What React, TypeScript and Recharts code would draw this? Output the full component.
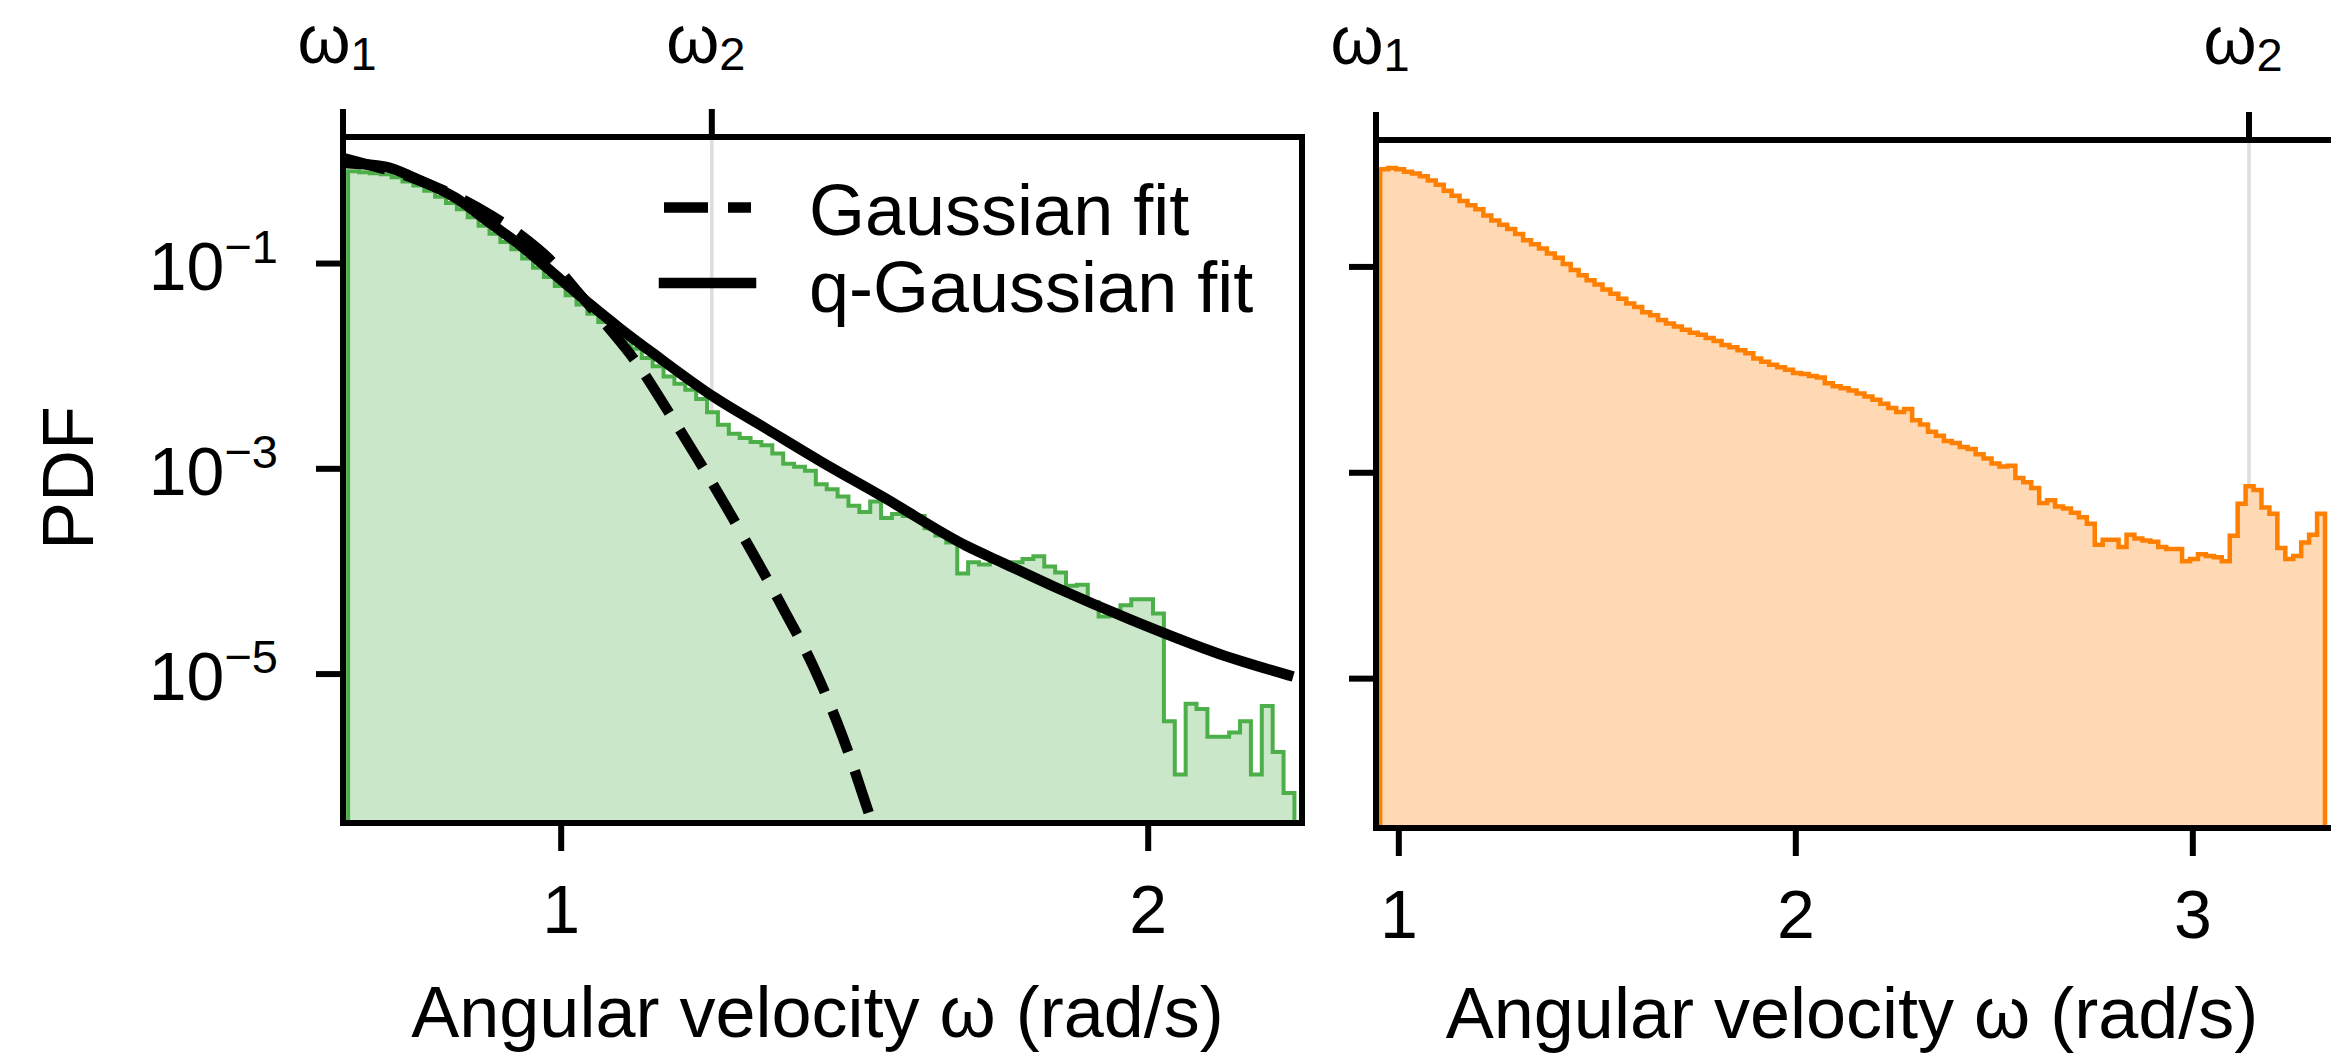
import React from 'react';
import { ComposedChart, Area, Line, XAxis, YAxis, Legend } from 'recharts';

const FONT = '"Liberation Sans", Arial, Helvetica, sans-serif';

// ---------- axes ----------
const LEFT_X_DOMAIN = [0.6283, 2.262];
const RIGHT_X_DOMAIN = [0.9425, 3.3607];
const Y_DOMAIN = [3.54e-7, 1.71];
const LEFT_X_TICKS = [1, 2];
const RIGHT_X_TICKS = [1, 2, 3];
const Y_TICKS = [1e-1, 1e-3, 1e-5];
const Y_TICK_EXPONENTS = ['\u22121', '\u22123', '\u22125'];
const LEFT_OMEGA_TICKS = [0.6283, 1.2566];
const RIGHT_OMEGA_TICKS = [0.9425, 3.1416];
const OMEGA_SUBSCRIPTS = ['1', '2'];
const X_LABEL = 'Angular velocity \u03c9 (rad/s)';
const Y_LABEL = 'PDF';
const LEGEND_LABELS = ['Gaussian fit', 'q-Gaussian fit'];

// ---------- left panel: histogram (green) ----------
const GREEN_BIN_START = 0.637;
const GREEN_BIN_WIDTH = 0.01853;
const greenPdf = [
  0.794, 0.776, 0.759, 0.741, 0.692, 0.631, 0.575, 0.513, 0.447, 0.389,
  0.339, 0.282, 0.234, 0.195, 0.162, 0.138, 0.112, 0.0912, 0.0741, 0.0603,
  0.049, 0.0398, 0.0324, 0.0269, 0.0219, 0.0178, 0.0148, 0.012, 0.01, 0.00794,
  0.00676, 0.00589, 0.00479, 0.00355, 0.00269, 0.00219, 0.002, 0.00182, 0.0017, 0.00141,
  0.00112, 0.00105, 9.55e-4, 7.08e-4, 6.31e-4, 5.37e-4, 4.37e-4, 3.8e-4, 4.79e-4, 3.31e-4,
  3.63e-4, 3.47e-4, 3.47e-4, 2.63e-4, 2.24e-4, 1.91e-4, 9.55e-5, 1.23e-4, 1.17e-4, 1.26e-4,
  1.2e-4, 1.23e-4, 1.32e-4, 1.41e-4, 1.12e-4, 9.77e-5, 7.24e-5, 7.41e-5, 5.01e-5, 3.63e-5,
  4.17e-5, 4.68e-5, 5.37e-5, 5.37e-5, 3.89e-5, 3.47e-6, 1.05e-6, 5.13e-6, 4.57e-6, 2.45e-6,
  2.45e-6, 2.69e-6, 3.47e-6, 1.05e-6, 4.9e-6, 1.74e-6, 6.92e-7,
];

// ---------- left panel: fits ----------
const gaussX = [0.6283, 0.68, 0.73, 0.78, 0.83, 0.88, 0.93, 0.98, 1.03, 1.08, 1.13, 1.18, 1.23, 1.28, 1.33, 1.38, 1.43, 1.48, 1.525];
const gaussPdf = [1.07, 0.891, 0.741, 0.575, 0.427, 0.295, 0.191, 0.11, 0.0513, 0.024, 0.0105, 0.0038, 0.00132, 4.37e-4, 1.38e-4, 4.17e-5, 1.17e-5, 2.4e-6, 4.27e-7];
const qGaussX = [0.6283, 0.7, 0.75, 0.82, 0.88, 0.93, 1.0, 1.05, 1.1, 1.16, 1.26, 1.35, 1.44, 1.55, 1.69, 1.75, 1.84, 1.97, 2.12, 2.2385];
const qGaussPdf = [0.955, 0.881, 0.684, 0.437, 0.245, 0.151, 0.0692, 0.0398, 0.0234, 0.0129, 0.00501, 0.00245, 0.0012, 5.25e-4, 1.78e-4, 1.23e-4, 7.08e-5, 3.39e-5, 1.58e-5, 9.77e-6];

// ---------- right panel: histogram (orange) ----------
const ORANGE_BIN_START = 0.953;
const ORANGE_BIN_WIDTH = 0.02;
const orangePdf = [
  0.891, 0.912, 0.891, 0.84, 0.81, 0.76, 0.69, 0.63, 0.55, 0.49,
  0.437, 0.398, 0.363, 0.316, 0.282, 0.257, 0.234, 0.209, 0.182, 0.166,
  0.151, 0.135, 0.123, 0.107, 0.0933, 0.0832, 0.0741, 0.0676, 0.0603, 0.055,
  0.049, 0.0442, 0.0407, 0.0363, 0.0339, 0.0305, 0.0282, 0.0263, 0.0245, 0.0229,
  0.0219, 0.0204, 0.0191, 0.0174, 0.0166, 0.0155, 0.0145, 0.0129, 0.012, 0.0112,
  0.0106, 0.01, 0.00933, 0.00912, 0.00871, 0.00841, 0.00741, 0.00692, 0.00661, 0.00631,
  0.00589, 0.0055, 0.00513, 0.00468, 0.00427, 0.00389, 0.00417, 0.00324, 0.00295, 0.00251,
  0.00229, 0.00204, 0.00195, 0.00178, 0.0017, 0.00151, 0.00138, 0.00123, 0.00115, 0.00117,
  8.9e-4, 8.1e-4, 7.1e-4, 5.1e-4, 5.4e-4, 4.7e-4, 4.5e-4, 4.1e-4, 3.7e-4, 3.2e-4,
  2.0e-4, 2.24e-4, 2.24e-4, 1.9e-4, 2.5e-4, 2.3e-4, 2.2e-4, 2.14e-4, 1.9e-4, 1.82e-4,
  1.82e-4, 1.38e-4, 1.45e-4, 1.62e-4, 1.55e-4, 1.51e-4, 1.38e-4, 2.45e-4, 5.0e-4, 7.4e-4,
  6.8e-4, 4.6e-4, 4.0e-4, 1.86e-4, 1.45e-4, 1.55e-4, 2.1e-4, 2.5e-4, 4.0e-4,
];

// ---------- colours ----------
const GREEN_LINE = '#4daf4a';
const GREEN_FILL = '#cae7c9';
const ORANGE_LINE = '#ff7f00';
const ORANGE_FILL = '#ffd9b3';
const OMEGA_LINE = '#dddddd';

// ---------- helpers building tables for the library ----------
function stepTable(start: number, width: number, values: number[], base: number) {
  const rows: { x: number; y: number }[] = [{ x: start, y: base }];
  values.forEach((v, i) => rows.push({ x: start + i * width, y: v }));
  const end = start + values.length * width;
  rows.push({ x: end, y: values[values.length - 1] });
  rows.push({ x: end, y: base });
  return rows;
}
function pairTable(xs: number[], ys: number[]) {
  return xs.map((x, i) => ({ x, y: ys[i] }));
}
function vline(x: number) {
  return [{ x, y: Y_DOMAIN[0] }, { x, y: Y_DOMAIN[1] }];
}

const greenTable = stepTable(GREEN_BIN_START, GREEN_BIN_WIDTH, greenPdf, Y_DOMAIN[0]);
const orangeTable = stepTable(ORANGE_BIN_START, ORANGE_BIN_WIDTH, orangePdf, Y_DOMAIN[0]);
const gaussTable = pairTable(gaussX, gaussPdf);
const qGaussTable = pairTable(qGaussX, qGaussPdf);

const SPINE = { stroke: '#000', strokeWidth: 6, strokeLinecap: 'square' as const };
const TICKLINE = { stroke: '#000', strokeWidth: 6 };
const TICK_FS = 68;
const SUB_FS = 47;
const LABEL_FS = 72;

// ---------- tick renderers ----------
const YTickLabel = (props: any) => {
  const { x, y, payload } = props;
  const idx = Y_TICKS.findIndex((t) => Math.abs(t - payload.value) / t < 1e-6);
  return (
    <text x={x} y={y + 26} textAnchor="end" fontFamily={FONT} fontSize={TICK_FS} fill="#000">
      <tspan>10</tspan>
      <tspan dy={-27} fontSize={SUB_FS}>{Y_TICK_EXPONENTS[idx]}</tspan>
    </text>
  );
};
const EmptyTick = () => <g />;
const XTickLabel = (props: any) => {
  const { x, y, payload } = props;
  return (
    <text x={x} y={y + 48} textAnchor="middle" fontFamily={FONT} fontSize={TICK_FS} fill="#000">
      {String(payload.value)}
    </text>
  );
};
const makeOmegaTick = (ticks: number[]) => (props: any) => {
  const { x, y, payload } = props;
  const idx = ticks.findIndex((t) => Math.abs(t - payload.value) < 1e-6);
  return (
    <text x={x - 6} y={y} textAnchor="middle" fontFamily={FONT} fontSize={TICK_FS} fill="#000">
      <tspan>{'\u03c9'}</tspan>
      <tspan dy={7} fontSize={SUB_FS}>{OMEGA_SUBSCRIPTS[idx]}</tspan>
    </text>
  );
};
const LeftOmegaTick = makeOmegaTick(LEFT_OMEGA_TICKS);
const RightOmegaTick = makeOmegaTick(RIGHT_OMEGA_TICKS);

const makeXTitle = (dy: number, dx: number) => (props: any) => {
  const vb = props.viewBox || {};
  return (
    <text
      x={vb.x + vb.width / 2 + dx}
      y={vb.y + dy}
      textAnchor="middle"
      fontFamily={FONT}
      fontSize={LABEL_FS}
      fill="#000"
    >
      {X_LABEL}
    </text>
  );
};
const LeftXTitle = makeXTitle(214, -5);
const RightXTitle = makeXTitle(210, -4);

const YTitle = (props: any) => {
  const vb = props.viewBox || {};
  const cx = vb.x + 93;
  const cy = vb.y + vb.height / 2 - 2;
  return (
    <text
      x={cx}
      y={cy}
      transform={`rotate(-90 ${cx} ${cy})`}
      textAnchor="middle"
      fontFamily={FONT}
      fontSize={LABEL_FS}
      fill="#000"
    >
      {Y_LABEL}
    </text>
  );
};

const LegendBox = () => (
  <svg width={640} height={170} style={{ display: 'block', overflow: 'visible' }}>
    <line x1={24} x2={111} y1={47.5} y2={47.5} stroke="#000" strokeWidth={10.5} strokeDasharray="44 20" />
    <text x={169} y={75} fontFamily={FONT} fontSize={LABEL_FS} fill="#000">{LEGEND_LABELS[0]}</text>
    <line x1={24} x2={111} y1={123} y2={123} stroke="#000" strokeWidth={10.5} strokeLinecap="square" />
    <text x={169} y={151.7} fontFamily={FONT} fontSize={LABEL_FS} fill="#000">{LEGEND_LABELS[1]}</text>
  </svg>
);

function LeftPanel() {
  return (
    <ComposedChart width={1330} height={1057} margin={{ top: 0, right: 0, bottom: 0, left: 0 }}>
      <XAxis
        xAxisId="b"
        type="number"
        dataKey="x"
        domain={LEFT_X_DOMAIN}
        allowDataOverflow
        ticks={LEFT_X_TICKS}
        interval={0}
        height={234}
        tickSize={28}
        tickMargin={34}
        axisLine={SPINE}
        tickLine={TICKLINE}
        tick={<XTickLabel />}
        label={<LeftXTitle />}
      />
      <XAxis
        xAxisId="t"
        orientation="top"
        type="number"
        dataKey="x"
        domain={LEFT_X_DOMAIN}
        allowDataOverflow
        ticks={LEFT_OMEGA_TICKS}
        interval={0}
        height={137}
        tickSize={28}
        tickMargin={46}
        axisLine={SPINE}
        tickLine={TICKLINE}
        tick={<LeftOmegaTick />}
      />
      <YAxis
        yAxisId="l"
        type="number"
        scale="log"
        domain={Y_DOMAIN}
        allowDataOverflow
        ticks={Y_TICKS}
        interval={0}
        width={343}
        tickSize={27}
        tickMargin={38}
        axisLine={SPINE}
        tickLine={TICKLINE}
        tick={<YTickLabel />}
        label={<YTitle />}
      />
      <YAxis
        yAxisId="r"
        orientation="right"
        type="number"
        scale="log"
        domain={Y_DOMAIN}
        allowDataOverflow
        width={28}
        axisLine={SPINE}
        tickLine={false}
        tick={false}
      />
      <Line
        xAxisId="b"
        yAxisId="l"
        data={vline(LEFT_OMEGA_TICKS[1])}
        dataKey="y"
        type="linear"
        stroke={OMEGA_LINE}
        strokeWidth={3.5}
        dot={false}
        activeDot={false}
        isAnimationActive={false}
        zIndex={50}
      />
      <Area
        xAxisId="b"
        yAxisId="l"
        data={greenTable}
        dataKey="y"
        type="stepAfter"
        baseValue={Y_DOMAIN[0]}
        stroke={GREEN_LINE}
        strokeWidth={4}
        fill={GREEN_FILL}
        fillOpacity={1}
        dot={false}
        activeDot={false}
        isAnimationActive={false}
      />
      <Line
        xAxisId="b"
        yAxisId="l"
        data={gaussTable}
        dataKey="y"
        type="monotone"
        stroke="#000"
        strokeWidth={10.5}
        strokeDasharray="44 20"
        dot={false}
        activeDot={false}
        isAnimationActive={false}
      />
      <Line
        xAxisId="b"
        yAxisId="l"
        data={qGaussTable}
        dataKey="y"
        type="monotone"
        stroke="#000"
        strokeWidth={10.5}
        strokeLinecap="square"
        dot={false}
        activeDot={false}
        isAnimationActive={false}
      />
      <Legend
        layout="horizontal"
        verticalAlign="middle"
        align="center"
        wrapperStyle={{ position: 'absolute', left: 640, top: 160, width: 640, height: 170, margin: 0, padding: 0 }}
        content={() => <LegendBox />}
      />
    </ComposedChart>
  );
}

function RightPanel() {
  return (
    <ComposedChart width={1100} height={1057} margin={{ top: 0, right: 0, bottom: 0, left: 0 }}>
      <XAxis
        xAxisId="b"
        type="number"
        dataKey="x"
        domain={RIGHT_X_DOMAIN}
        allowDataOverflow
        ticks={RIGHT_X_TICKS}
        interval={0}
        height={229}
        tickSize={28}
        tickMargin={34}
        axisLine={SPINE}
        tickLine={TICKLINE}
        tick={<XTickLabel />}
        label={<RightXTitle />}
      />
      <XAxis
        xAxisId="t"
        orientation="top"
        type="number"
        dataKey="x"
        domain={RIGHT_X_DOMAIN}
        allowDataOverflow
        ticks={RIGHT_OMEGA_TICKS}
        interval={0}
        height={140}
        tickSize={28}
        tickMargin={48}
        axisLine={SPINE}
        tickLine={TICKLINE}
        tick={<RightOmegaTick />}
      />
      <YAxis
        yAxisId="l"
        type="number"
        scale="log"
        domain={Y_DOMAIN}
        allowDataOverflow
        ticks={Y_TICKS}
        interval={0}
        width={76}
        tickSize={27}
        tickMargin={10}
        axisLine={SPINE}
        tickLine={TICKLINE}
        tick={<EmptyTick />}
      />
      <YAxis
        yAxisId="r"
        orientation="right"
        type="number"
        scale="log"
        domain={Y_DOMAIN}
        allowDataOverflow
        width={64}
        axisLine={SPINE}
        tickLine={false}
        tick={false}
      />
      <Line
        xAxisId="b"
        yAxisId="l"
        data={vline(RIGHT_OMEGA_TICKS[1])}
        dataKey="y"
        type="linear"
        stroke={OMEGA_LINE}
        strokeWidth={3.5}
        dot={false}
        activeDot={false}
        isAnimationActive={false}
        zIndex={50}
      />
      <Area
        xAxisId="b"
        yAxisId="l"
        data={orangeTable}
        dataKey="y"
        type="stepAfter"
        baseValue={Y_DOMAIN[0]}
        stroke={ORANGE_LINE}
        strokeWidth={4.5}
        fill={ORANGE_FILL}
        fillOpacity={1}
        dot={false}
        activeDot={false}
        isAnimationActive={false}
      />
    </ComposedChart>
  );
}

export default function App() {
  return (
    <div
      style={{
        position: 'fixed',
        left: 0,
        top: 0,
        width: 2331,
        height: 1057,
        overflow: 'hidden',
        background: '#fff',
        fontFamily: FONT,
      }}
    >
      <div style={{ position: 'absolute', left: 0, top: 0 }}>
        <LeftPanel />
      </div>
      <div style={{ position: 'absolute', left: 1300, top: 0 }}>
        <RightPanel />
      </div>
    </div>
  );
}
